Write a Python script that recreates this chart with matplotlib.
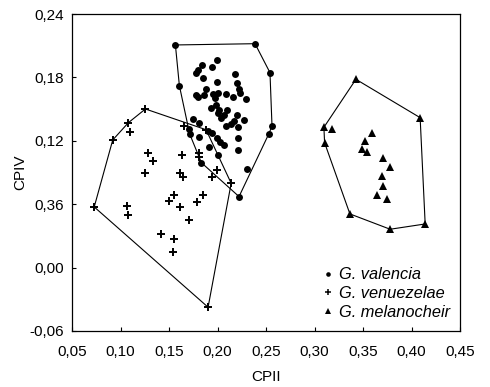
import numpy as np
import matplotlib
matplotlib.use("Agg")
import matplotlib.pyplot as plt
from matplotlib.lines import Line2D

plt.rcParams['font.family'] = ['Liberation Sans', 'DejaVu Sans']

# G. valencia (CPII, CPIV)
valencia_x = [0.1566, 0.2387, 0.1998, 0.1837, 0.1942, 0.1800, 0.1775, 0.2541, 0.2176, 0.1854,
              0.1991, 0.2204, 0.1607, 0.1878, 0.2225, 0.2227, 0.1775, 0.1800, 0.1861, 0.1957,
              0.2004, 0.2088, 0.1973, 0.2161, 0.2294, 0.1981, 0.1932, 0.2019, 0.2101, 0.2009,
              0.2071, 0.2037, 0.2204, 0.2273, 0.2168, 0.2137, 0.2091, 0.2208, 0.2562, 0.1749,
              0.1810, 0.1705, 0.1713, 0.1899, 0.1944, 0.2527, 0.1808, 0.1998, 0.2022, 0.2071,
              0.1911, 0.2213, 0.2213, 0.2009, 0.1834, 0.2304, 0.2222]
valencia_y = [0.2107, 0.2119, 0.1965, 0.1922, 0.1901, 0.1870, 0.1844, 0.1845, 0.1834, 0.1792,
              0.1761, 0.1750, 0.1722, 0.1688, 0.1689, 0.1657, 0.1634, 0.1610, 0.1632, 0.1641,
              0.1650, 0.1643, 0.1602, 0.1618, 0.1591, 0.1542, 0.1511, 0.1492, 0.1487, 0.1461,
              0.1440, 0.1416, 0.1440, 0.1400, 0.1385, 0.1359, 0.1338, 0.1331, 0.1338, 0.1411,
              0.1369, 0.1312, 0.1265, 0.1293, 0.1274, 0.1262, 0.1232, 0.1224, 0.1192, 0.1161,
              0.1139, 0.1224, 0.1110, 0.1061, 0.0993, 0.0931, 0.0672]

# G. venuezelae
venuezelae_x = [0.1257, 0.1082, 0.1095, 0.0920, 0.1288, 0.1336, 0.1250, 0.0729, 0.1064, 0.1075,
                0.1633, 0.1614, 0.1641, 0.1550, 0.1496, 0.1614, 0.1846, 0.1790, 0.1708, 0.1420,
                0.1547, 0.1545, 0.1903, 0.1657, 0.1882, 0.1810, 0.1810, 0.1991, 0.1939, 0.2141]
venuezelae_y = [0.1501, 0.1372, 0.1284, 0.1208, 0.1088, 0.1006, 0.0899, 0.0574, 0.0581, 0.0497,
                0.1068, 0.0891, 0.0853, 0.0690, 0.0631, 0.0577, 0.0688, 0.0623, 0.0451, 0.0319,
                0.0271, 0.0146, -0.0375, 0.1340, 0.1305, 0.1087, 0.1050, 0.0924, 0.0855, 0.0798]

# G. melanocheir
melanocheir_x = [0.3427, 0.4089, 0.4141, 0.3780, 0.3365, 0.3104, 0.3097, 0.3180, 0.3592, 0.3523,
                 0.3489, 0.3546, 0.3711, 0.3780, 0.3701, 0.3711, 0.3646, 0.3752]
melanocheir_y = [0.1782, 0.1419, 0.0413, 0.0363, 0.0508, 0.1182, 0.1328, 0.1309, 0.1271, 0.1198,
                 0.1126, 0.1094, 0.1035, 0.0955, 0.0867, 0.0773, 0.0688, 0.0653]

x_ticks = [0.05, 0.10, 0.15, 0.20, 0.25, 0.30, 0.35, 0.40, 0.45]
x_labels = ["0,05", "0,10", "0,15", "0,20", "0,25", "0,30", "0,35", "0,40", "0,45"]
y_ticks = [-0.06, 0.00, 0.06, 0.12, 0.18, 0.24]
y_labels = ["-0,06", "0,00", "0,36", "0,12", "0,18", "0,24"]

species = ["G. valencia", "G. venuezelae", "G. melanocheir"]


def convex_hull(xs, ys):
    pts = sorted(set(zip(xs, ys)))

    def cross(o, a, b):
        return (a[0] - o[0]) * (b[1] - o[1]) - (a[1] - o[1]) * (b[0] - o[0])

    lower, upper = [], []
    for p in pts:
        while len(lower) >= 2 and cross(lower[-2], lower[-1], p) <= 0:
            lower.pop()
        lower.append(p)
    for p in reversed(pts):
        while len(upper) >= 2 and cross(upper[-2], upper[-1], p) <= 0:
            upper.pop()
        upper.append(p)
    hull = lower[:-1] + upper[:-1]
    hull.append(hull[0])
    return np.array(hull)


fig = plt.figure(figsize=(4.9, 3.87), dpi=100)
ax = fig.add_axes([72 / 490, 1 - 331 / 387, 388 / 490, 317 / 387])

groups = [
    (valencia_x, valencia_y, dict(marker='o', ms=5.0, mew=0)),
    (venuezelae_x, venuezelae_y, dict(marker='+', ms=6.0, mew=1.4)),
    (melanocheir_x, melanocheir_y, dict(marker='^', ms=6.0, mew=0)),
]
legend_styles = [
    dict(marker='o', ms=3.3, mew=0),
    dict(marker='+', ms=5.0, mew=1.1),
    dict(marker='^', ms=4.5, mew=0),
]

handles = []
for (gx, gy, style), lstyle, name in zip(groups, legend_styles, species):
    h = convex_hull(gx, gy)
    ax.plot(h[:, 0], h[:, 1], color='black', lw=0.8, zorder=2)
    ax.plot(gx, gy, color='black', linestyle='none', zorder=3, **style)
    handles.append(Line2D([], [], color='black', linestyle='none', label=name, **lstyle))

ax.set_xlim(0.05, 0.45)
ax.set_ylim(-0.06, 0.24)
ax.set_xticks(x_ticks)
ax.set_xticklabels(x_labels)
ax.set_yticks(y_ticks)
ax.set_yticklabels(y_labels)
ax.tick_params(direction='in', length=3, width=0.8, labelsize=11,
               top=False, right=False)
ax.tick_params(axis='x', pad=10)
ax.tick_params(axis='y', pad=6)
for s in ax.spines.values():
    s.set_linewidth(0.9)

ax.set_xlabel("CPII", fontsize=11, labelpad=8)
ax.set_ylabel("CPIV", fontsize=11, labelpad=1.5)

ax.legend(handles=handles, loc='lower right', bbox_to_anchor=(1.0, 0.005),
          frameon=False, handlelength=0.6, handletextpad=0.4,
          labelspacing=0.22, borderaxespad=0.2,
          prop={'style': 'italic', 'size': 11.8})

fig.savefig("out.png", dpi=100)
